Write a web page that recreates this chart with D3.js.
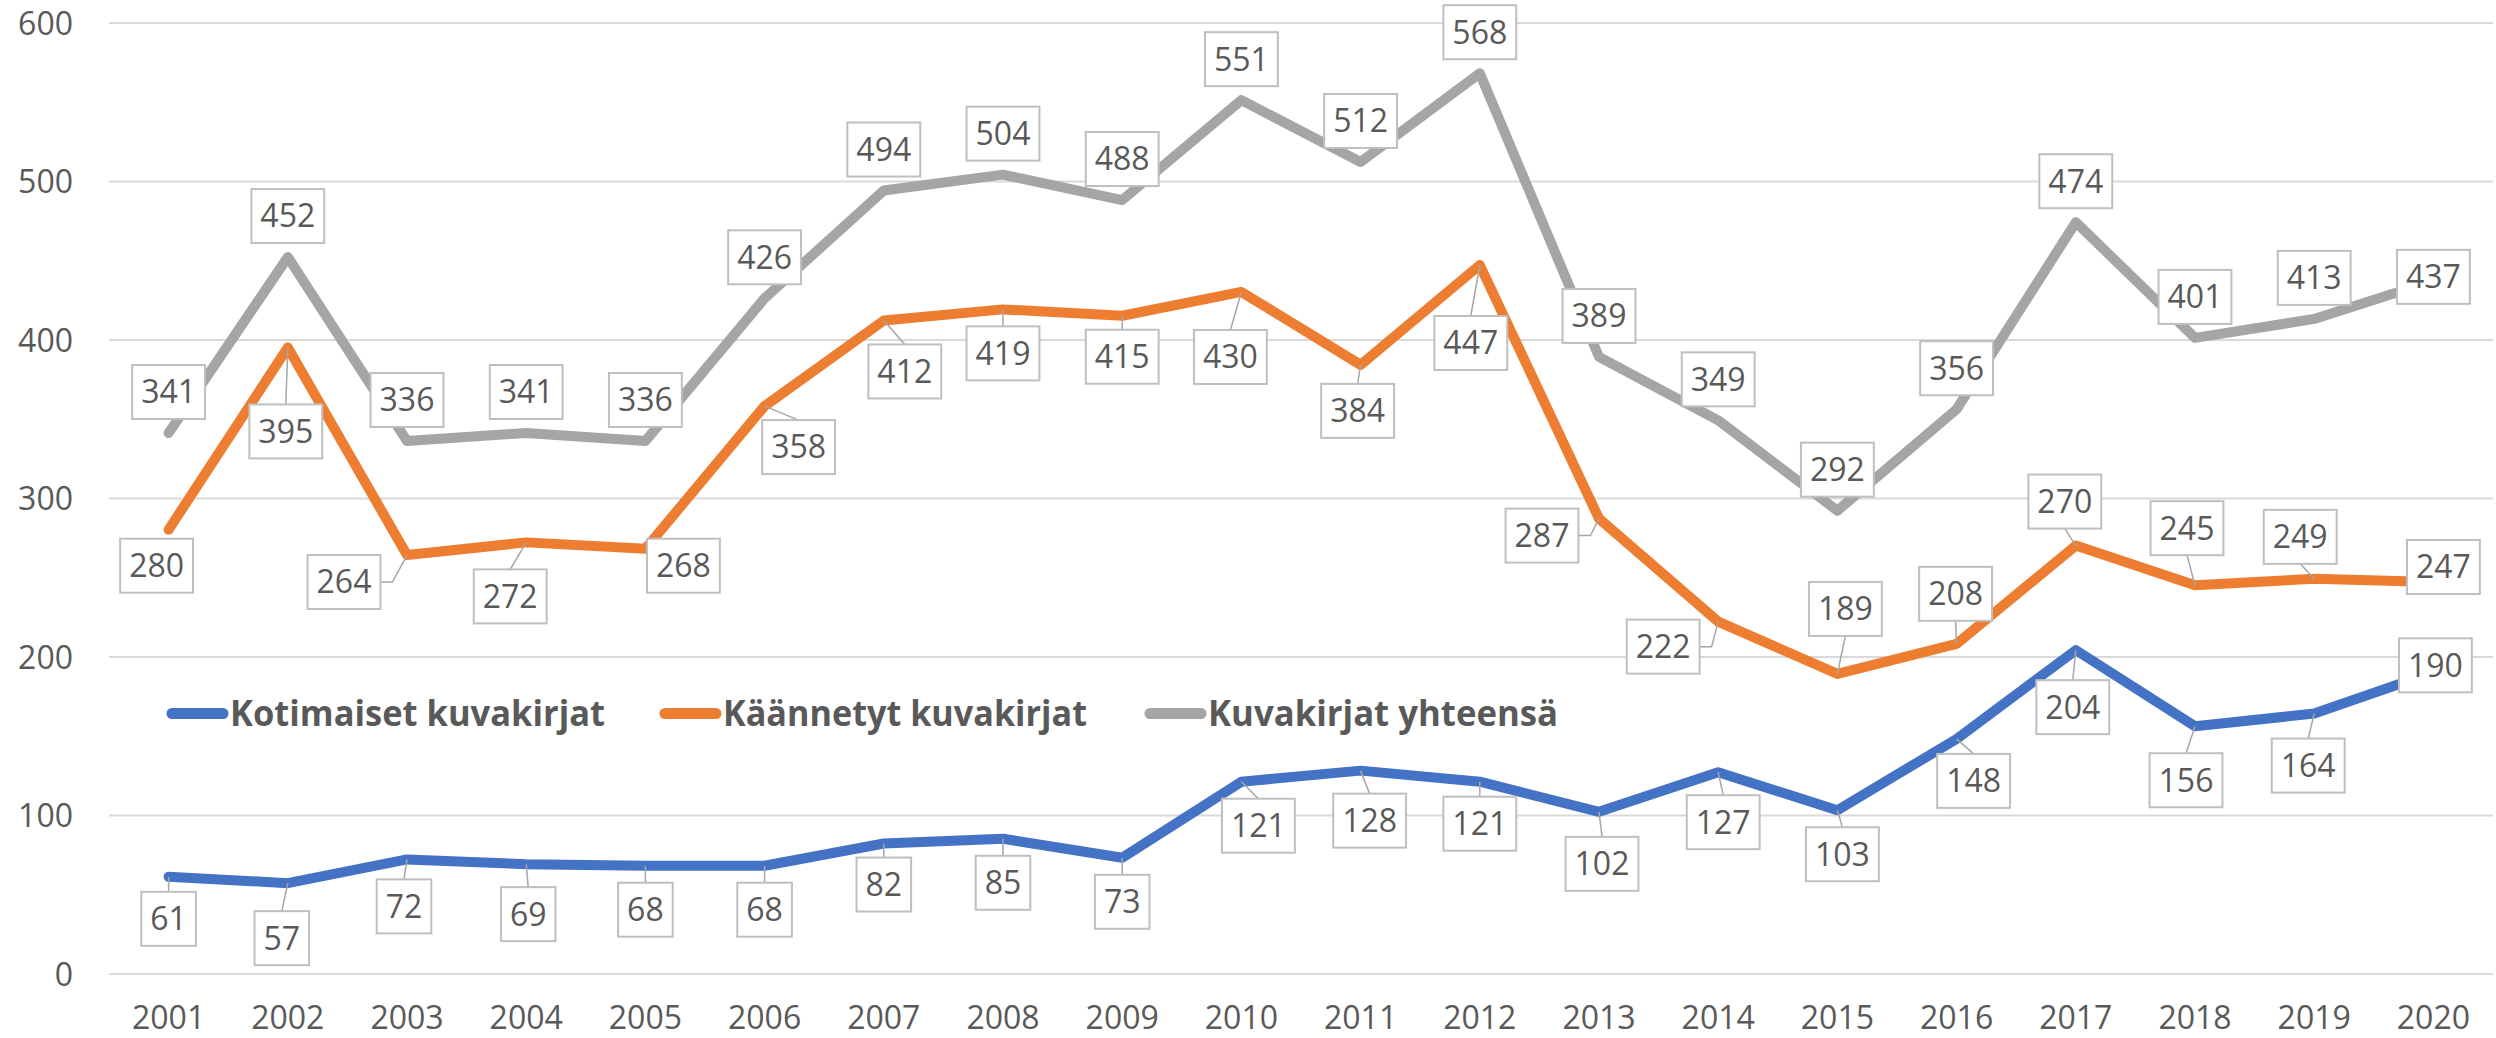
<!DOCTYPE html>
<html>
<head>
<meta charset="utf-8">
<script src="https://cdn.jsdelivr.net/npm/d3@7"></script>
<style>
  body { margin: 0; background: #fff; }
  text { font-family: "Open Sans", sans-serif; fill: #595959; }
</style>
</head>
<body>
<svg id="chart"></svg>
<script>
// --- data ---
const years = ["2001","2002","2003","2004","2005","2006","2007","2008","2009","2010",
               "2011","2012","2013","2014","2015","2016","2017","2018","2019","2020"];
const seriesNames = ["Kotimaiset kuvakirjat", "Käännetyt kuvakirjat", "Kuvakirjat yhteensä"];
const kotimaiset = [61, 57, 72, 69, 68, 68, 82, 85, 73, 121, 128, 121, 102, 127, 103, 148, 204, 156, 164, 190];
const kaannetyt  = [280, 395, 264, 272, 268, 358, 412, 419, 415, 430, 384, 447, 287, 222, 189, 208, 270, 245, 249, 247];
const yhteensa   = [341, 452, 336, 341, 336, 426, 494, 504, 488, 551, 512, 568, 389, 349, 292, 356, 474, 401, 413, 437];
const yTicks = [0, 100, 200, 300, 400, 500, 600];

// --- layout ---
const W = 2496, H = 1038;
const plot = {left: 109, right: 2493, top: 22.5, bottom: 973.5};
const colors = ["#4472c4", "#ed7d31", "#a5a5a5"];
const legendX = [167, 660, 1145];
const legendTextW = [375, 364, 350];

// label box centre offsets from their point (px), hand placed like the original
const offKotimaiset = [[0,42],[-6,55],[-3,47],[2,50],[0,44],[0,44],[0,41],[0,44],[0,44],[17,44],
                       [9,50],[0,42],[3,52],[5,50],[5,44],[17,42],[-3,57],[-9,54],[-6,52],[2,-7]];
const offKaannetyt  = [[-12,36],[-2,84],[-63,27],[-16,54],[38,17],[34,41],[21,51],[0,44],[0,41],[-11,65],
                       [-3,46],[-9,78],[-57,17],[-55,25],[8,-65],[-1,-50],[-11,-44],[-8,-57],[-14,-42],[10,-15]];
const offYhteensa   = years.map((d, i) => i === 19 ? [0, -4] : [0, -41]);

const series = [
  {name: seriesNames[0], values: kotimaiset, color: colors[0], off: offKotimaiset, leaders: true},
  {name: seriesNames[1], values: kaannetyt,  color: colors[1], off: offKaannetyt,  leaders: true},
  {name: seriesNames[2], values: yhteensa,   color: colors[2], off: offYhteensa,   leaders: false}
];

const svg = d3.select('#chart')
  .attr('width', W)
  .attr('height', H);

svg.append('rect').attr('width', W).attr('height', H).attr('fill', '#fff');

const x = d3.scaleBand()
  .domain(years)
  .range([plot.left, plot.right])
  .padding(0);

const y = d3.scaleLinear()
  .domain([0, 600])
  .range([plot.bottom, plot.top]);

const xc = d => x(d) + x.bandwidth() / 2;

// gridlines + y labels
const yAxis = svg.append('g')
  .attr('transform', `translate(${plot.left},0)`)
  .call(d3.axisLeft(y).tickValues(yTicks).tickSize(-(plot.right - plot.left)).tickPadding(36));
yAxis.select('.domain').remove();
yAxis.selectAll('line').attr('stroke', '#d9d9d9').attr('stroke-width', 2);
yAxis.selectAll('text')
  .attr('font-size', 32)
  .attr('dy', '0.36em')
  .style('font-family', '"Open Sans", sans-serif')
  .attr('fill', '#595959');

// x labels
const xAxis = svg.append('g')
  .attr('transform', `translate(0,${plot.bottom})`)
  .call(d3.axisBottom(x).tickSize(0).tickPadding(0));
xAxis.select('.domain').remove();
xAxis.selectAll('text')
  .attr('font-size', 32)
  .attr('y', 55)
  .attr('dy', 0)
  .style('font-family', '"Open Sans", sans-serif')
  .attr('fill', '#595959');

// lines
const line = d3.line()
  .x((d, i) => xc(years[i]))
  .y(d => y(d));

series.forEach(s => {
  svg.append('path')
    .datum(s.values)
    .attr('d', line)
    .attr('fill', 'none')
    .attr('stroke', s.color)
    .attr('stroke-width', 10)
    .attr('stroke-linejoin', 'round')
    .attr('stroke-linecap', 'round');
});

// data labels
const boxH = 54;
series.forEach(s => {
  const g = svg.append('g');
  s.values.forEach((v, i) => {
    const px = xc(years[i]), py = y(v);
    const cx = px + s.off[i][0], cy = py + s.off[i][1];
    const lg = g.append('g');
    const leader = lg.append('path');
    const box = lg.append('rect');
    const t = lg.append('text')
      .attr('x', cx)
      .attr('y', cy + 11.4)
      .attr('text-anchor', 'middle')
      .attr('font-size', 32)
      .text(v);
    const bw = t.node().getComputedTextLength() + 18;
    const L = cx - bw / 2, R = cx + bw / 2, T = cy - boxH / 2, B = cy + boxH / 2;
    box.attr('x', L).attr('y', T).attr('width', bw).attr('height', boxH)
      .attr('fill', '#fff').attr('stroke', '#bfbfbf').attr('stroke-width', 2);

    if (s.leaders) {
      let d = null;
      if (px > R + 8) d = `M${px},${py}L${R + 12},${cy}L${R},${cy}`;
      else if (px < L - 8) d = `M${px},${py}L${L - 12},${cy}L${L},${cy}`;
      else if (py < T - 10) d = `M${px},${py}L${cx},${T}`;
      else if (py > B + 10) d = `M${px},${py}L${cx},${B}`;
      if (d) leader.attr('d', d).attr('fill', 'none').attr('stroke', '#a6a6a6').attr('stroke-width', 1.5);
      else leader.remove();
    } else leader.remove();
  });
});

// legend
const legend = svg.append('g').attr('class', 'legend');
series.forEach((s, i) => {
  const lx = legendX[i];
  legend.append('line')
    .attr('x1', lx + 5).attr('x2', lx + 56)
    .attr('y1', 713.5).attr('y2', 713.5)
    .attr('stroke', s.color)
    .attr('stroke-width', 11)
    .attr('stroke-linecap', 'round');
  legend.append('text')
    .attr('x', lx + 63)
    .attr('y', 726)
    .attr('font-size', 36)
    .attr('font-weight', 'bold')
    .attr('textLength', legendTextW[i])
    .attr('lengthAdjust', 'spacingAndGlyphs')
    .text(s.name);
});
</script>
</body>
</html>
